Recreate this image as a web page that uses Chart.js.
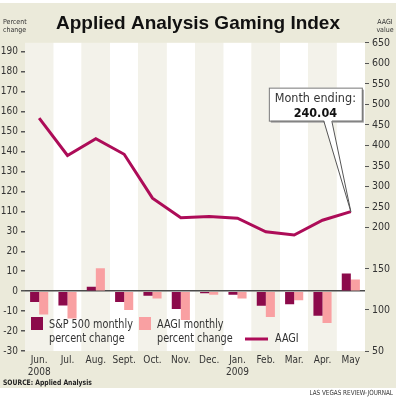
<!DOCTYPE html>
<html>
<head>
<meta charset="utf-8">
<script src="https://cdn.jsdelivr.net/npm/chart.js@4.4.0/dist/chart.umd.min.js"></script>
<style>
  html, body { margin: 0; padding: 0; background: #fff; }
  #wrap { width: 396px; height: 400px; position: relative; }
</style>
</head>
<body>
<div id="wrap"><canvas id="chart" width="396" height="400"></canvas></div>
<script>
// data
const months = [['Jun.', '2008'], 'Jul.', 'Aug.', 'Sept.', 'Oct.', 'Nov.', 'Dec.', ['Jan.', '2009'], 'Feb.', 'Mar.', 'Apr.', 'May'];
const spMonthly = [-5.4, -7.2, 2.2, -5.4, -2.3, -9.0, -1.1, -1.8, -7.3, -6.6, -12.3, 8.8];
const aagiMonthly = [-11.7, -13.7, 11.5, -9.5, -3.7, -14.4, -1.8, -3.7, -13.0, -4.5, -16.0, 5.9];
const aagiValue = [468, 377, 418, 380, 273, 225, 228, 224, 191, 183, 219, 240.04];
const seriesNames = [['S&P 500 monthly', 'percent change'], ['AAGI monthly', 'percent change'], ['AAGI']];

// the printed axes are broken, so tick labels are looked up by position
const leftTickLabels = ['-30', '-20', '-10', '0', '10', '20', '30', '110', '120', '130', '140', '150', '160', '170', '180', '190'];
const rightTickLabels = ['50', '', '100', '', '150', '', '200', '250', '300', '350', '400', '450', '500', '550', '600', '650'];

const NARROW = '"Liberation Sans Narrow", "DejaVu Sans Condensed", "Roboto", sans-serif';
const SANS = '"Liberation Sans", Arial, sans-serif';
const TEXT = '#333';

const colors = {
  sp: '#8c0a4b',
  aagiPct: '#f9a0a2',
  aagi: '#ad0c58',
  panel: '#ebeada',
  stripe: '#f3f2ea'
};

function leftLabel(v) {
  return leftTickLabels[Math.round((v + 30) / 10)] || '';
}
function rightLabel(v) {
  return rightTickLabels[Math.round((v + 100) / 50)] || '';
}

// squeeze text sideways a little, the print uses a condensed face
function squeezed(ctx, str, x, y, sx) {
  ctx.save();
  ctx.translate(x, y);
  ctx.scale(sx, 1);
  ctx.fillText(str, 0, 0);
  ctx.restore();
}

const panelPlugin = {
  id: 'panel',
  beforeDraw(chart) {
    const { ctx, chartArea: a, scales: { x } } = chart;
    ctx.save();
    ctx.fillStyle = '#fff';
    ctx.fillRect(0, 0, chart.width, chart.height);
    ctx.fillStyle = colors.panel;
    ctx.fillRect(0, 3, chart.width, 385);

    // alternating column stripes
    const w = (a.right - a.left) / months.length;
    months.forEach((m, i) => {
      const cx = x.getPixelForValue(i);
      ctx.fillStyle = i % 2 ? '#ffffff' : colors.stripe;
      ctx.fillRect(cx - w / 2, a.top, w, a.bottom - a.top);
    });
    ctx.restore();
  },
  afterDraw(chart) {
    const { ctx, chartArea: a } = chart;
    ctx.save();

    // axis headers
    ctx.fillStyle = TEXT;
    ctx.font = '7px ' + NARROW;
    ctx.textBaseline = 'middle';
    ctx.textAlign = 'left';
    ctx.fillText('Percent', 3, 22);
    ctx.fillText('change', 3, 30);
    ctx.textAlign = 'center';
    ctx.fillText('AAGI', 385, 22);
    ctx.fillText('value', 385, 30);

    // source and credit
    ctx.textAlign = 'left';
    ctx.fillStyle = '#222';
    ctx.font = 'bold 7.5px ' + NARROW;
    squeezed(ctx, 'SOURCE: Applied Analysis', 3, 383, 0.9);
    ctx.textAlign = 'right';
    ctx.font = '7px ' + NARROW;
    ctx.fillStyle = TEXT;
    squeezed(ctx, 'LAS VEGAS REVIEW-JOURNAL', 393, 393, 0.9);

    // legend inside the plot
    const ly1 = a.bottom - 26, ly2 = a.bottom - 12;
    const sx = 0.86;
    ctx.textAlign = 'left';
    ctx.font = '12.5px ' + NARROW;
    ctx.fillStyle = colors.sp;
    ctx.fillRect(a.left + 6, a.bottom - 34, 12, 13);
    ctx.fillStyle = colors.aagiPct;
    ctx.fillRect(a.left + 114, a.bottom - 34, 12, 13);
    ctx.fillStyle = TEXT;
    squeezed(ctx, seriesNames[0][0], a.left + 24, ly1, sx);
    squeezed(ctx, seriesNames[0][1], a.left + 24, ly2, sx);
    squeezed(ctx, seriesNames[1][0], a.left + 132, ly1, sx);
    squeezed(ctx, seriesNames[1][1], a.left + 132, ly2, sx);
    ctx.strokeStyle = colors.aagi;
    ctx.lineWidth = 3;
    ctx.beginPath();
    ctx.moveTo(a.left + 220, ly2);
    ctx.lineTo(a.left + 243, ly2);
    ctx.stroke();
    squeezed(ctx, seriesNames[2][0], a.left + 250, ly2, sx);

    // callout for the last AAGI value
    const pt = chart.getDatasetMeta(2).data[aagiValue.length - 1];
    const bw = 93, bh = 33;
    const bx = pt.x - 82, by = pt.y - 124;
    ctx.fillStyle = '#9a9a9a';
    ctx.fillRect(bx + 2, by + 2, bw, bh);
    ctx.fillStyle = '#fff';
    ctx.fillRect(bx, by, bw, bh);
    ctx.strokeStyle = '#777';
    ctx.lineWidth = 1;
    ctx.strokeRect(bx + 0.5, by + 0.5, bw, bh);
    // pointer
    ctx.beginPath();
    ctx.moveTo(pt.x - 27, by + bh - 1);
    ctx.lineTo(pt.x, pt.y);
    ctx.lineTo(pt.x - 19, by + bh - 1);
    ctx.closePath();
    ctx.fillStyle = '#fff';
    ctx.fill();
    ctx.strokeStyle = '#555';
    ctx.beginPath();
    ctx.moveTo(pt.x - 27, by + bh + 0.5);
    ctx.lineTo(pt.x, pt.y);
    ctx.lineTo(pt.x - 19, by + bh + 0.5);
    ctx.stroke();

    ctx.textAlign = 'center';
    ctx.fillStyle = TEXT;
    ctx.font = '12.5px ' + NARROW;
    ctx.fillText('Month ending:', bx + bw / 2, by + 11);
    ctx.fillStyle = '#111';
    ctx.font = 'bold 12.5px ' + NARROW;
    ctx.fillText(aagiValue[aagiValue.length - 1].toFixed(2), bx + bw / 2, by + 26);

    ctx.restore();
  }
};

new Chart(document.getElementById('chart'), {
  type: 'bar',
  data: {
    labels: months,
    datasets: [
      {
        label: seriesNames[0].join(' '),
        data: spMonthly,
        backgroundColor: colors.sp,
        yAxisID: 'y',
        categoryPercentage: 0.64,
        barPercentage: 1.0,
        order: 2
      },
      {
        label: seriesNames[1].join(' '),
        data: aagiMonthly,
        backgroundColor: colors.aagiPct,
        yAxisID: 'y',
        categoryPercentage: 0.64,
        barPercentage: 1.0,
        order: 2
      },
      {
        type: 'line',
        label: seriesNames[2][0],
        data: aagiValue,
        borderColor: colors.aagi,
        borderWidth: 3,
        pointRadius: 0,
        tension: 0,
        yAxisID: 'y1',
        order: 1
      }
    ]
  },
  options: {
    responsive: false,
    animation: false,
    events: [],
    layout: { padding: 0 },
    plugins: {
      legend: { display: false },
      tooltip: { enabled: false },
      title: {
        display: true,
        text: 'Applied Analysis Gaming Index',
        color: '#111',
        font: { family: SANS, size: 19, weight: 'bold' },
        padding: { top: 12, bottom: 8 }
      }
    },
    scales: {
      x: {
        grid: { display: false, drawTicks: false },
        border: { display: false },
        ticks: {
          color: TEXT,
          font: { family: NARROW, size: 10, lineHeight: 1.15 },
          padding: 4,
          maxRotation: 0,
          autoSkip: false
        },
        afterFit(scale) { scale.height = 49; }
      },
      y: {
        position: 'left',
        min: -30,
        max: 124.5,
        border: { display: false },
        grid: {
          drawOnChartArea: true,
          color: (c) => (c.tick && c.tick.value === 0 ? '#4a4a4a' : 'rgba(0,0,0,0)'),
          lineWidth: 1.5,
          tickColor: '#555',
          tickLength: 4
        },
        ticks: {
          stepSize: 10,
          includeBounds: false,
          autoSkip: false,
          padding: 3,
          color: TEXT,
          font: { family: NARROW, size: 10 },
          callback: (v) => leftLabel(v)
        },
        afterFit(scale) { scale.width = 25; }
      },
      y1: {
        position: 'right',
        min: -100,
        max: 652,
        border: { display: false },
        grid: {
          drawOnChartArea: false,
          tickColor: (c) => (c.tick && rightLabel(c.tick.value) ? '#555' : 'rgba(0,0,0,0)'),
          tickLength: 4
        },
        ticks: {
          stepSize: 50,
          includeBounds: false,
          autoSkip: false,
          padding: 3,
          color: TEXT,
          font: { family: NARROW, size: 10.5 },
          callback: (v) => rightLabel(v)
        },
        afterFit(scale) { scale.width = 31; }
      }
    }
  },
  plugins: [panelPlugin]
});
</script>
</body>
</html>
